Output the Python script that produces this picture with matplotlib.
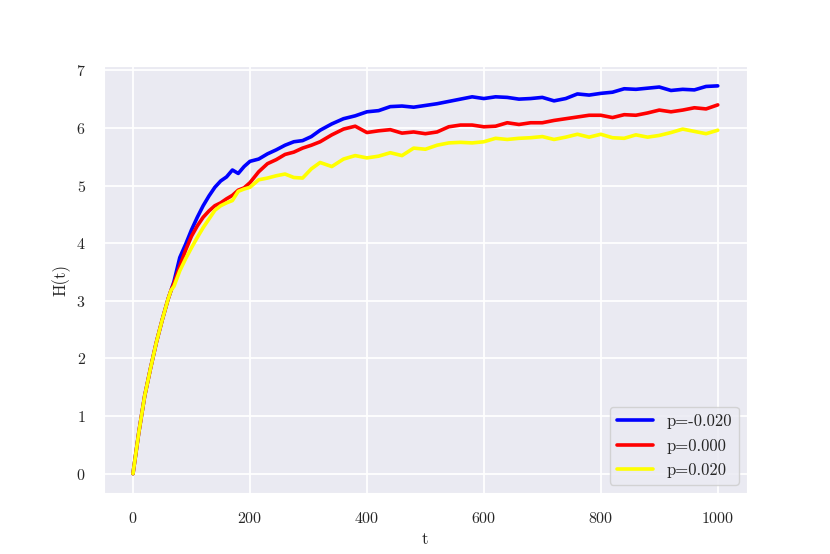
import numpy as np
import matplotlib
matplotlib.use("Agg")
import matplotlib.pyplot as plt
import seaborn as sns

sns.set_style("darkgrid")
plt.rcParams["font.family"] = ["cmr10", "DejaVu Serif"]
plt.rcParams["axes.formatter.use_mathtext"] = True
plt.rcParams["axes.unicode_minus"] = False
plt.rcParams["grid.linewidth"] = 1.3

# time steps (shared by all three runs)
t = [0, 10, 20, 30, 40, 50, 60, 65, 70, 80, 90, 100, 110, 120, 130, 140, 150,
     160, 170, 180, 190, 200, 215, 230, 245, 260, 275, 290, 305, 320, 340, 360,
     380, 400, 420, 440, 460, 480, 500, 520, 540, 560, 580, 600, 620, 640, 660,
     680, 700, 720, 740, 760, 780, 800, 820, 840, 860, 880, 900, 920, 940, 960,
     980, 1000]

# start of the curve is shared by all runs
h_start = [0.0, 0.72, 1.35, 1.83, 2.28, 2.67, 3.03, 3.18]

h_neg = h_start + [
    3.33, 3.75, 3.98, 4.23, 4.45, 4.65, 4.82, 4.97, 5.08, 5.15, 5.27, 5.21,
    5.33, 5.42, 5.46, 5.55, 5.62, 5.70, 5.76, 5.78, 5.85, 5.96, 6.07, 6.16,
    6.21, 6.28, 6.30, 6.37, 6.38, 6.36, 6.39, 6.42, 6.46, 6.50, 6.54, 6.51,
    6.54, 6.53, 6.50, 6.51, 6.53, 6.47, 6.51, 6.59, 6.57, 6.60, 6.62, 6.68,
    6.67, 6.69, 6.71, 6.65, 6.67, 6.66, 6.72, 6.73]

h_zero = h_start + [
    3.30, 3.60, 3.88, 4.12, 4.30, 4.45, 4.56, 4.65, 4.70, 4.77, 4.83, 4.92,
    4.96, 5.05, 5.24, 5.38, 5.45, 5.54, 5.58, 5.65, 5.70, 5.76, 5.88, 5.98,
    6.03, 5.92, 5.95, 5.97, 5.91, 5.93, 5.90, 5.93, 6.02, 6.05, 6.05, 6.02,
    6.03, 6.09, 6.06, 6.09, 6.09, 6.13, 6.16, 6.19, 6.22, 6.22, 6.18, 6.23,
    6.22, 6.26, 6.31, 6.28, 6.31, 6.35, 6.33, 6.40]

h_pos = h_start + [
    3.25, 3.52, 3.73, 3.92, 4.10, 4.27, 4.42, 4.57, 4.65, 4.70, 4.74, 4.90,
    4.94, 4.97, 5.10, 5.13, 5.17, 5.20, 5.14, 5.13, 5.29, 5.40, 5.33, 5.46,
    5.52, 5.48, 5.51, 5.57, 5.52, 5.65, 5.63, 5.70, 5.74, 5.75, 5.74, 5.76,
    5.82, 5.80, 5.82, 5.83, 5.85, 5.80, 5.84, 5.89, 5.84, 5.89, 5.83, 5.82,
    5.88, 5.84, 5.87, 5.92, 5.98, 5.94, 5.90, 5.96]

labels = ["p=-0.020", "p=0.000", "p=0.020"]
colors = ["blue", "red", "yellow"]

fig, ax = plt.subplots(figsize=(8.3, 5.54), dpi=100)

for h, lab, c in zip([h_neg, h_zero, h_pos], labels, colors):
    ax.plot(t, h, color=c, lw=2.6, label=lab)

ax.set_xlabel("t", fontsize=12)
ax.set_ylabel("H(t)", fontsize=12)
ax.tick_params(axis="both", labelsize=11.5, length=0, pad=13)
ax.set_yticks(range(8))
ax.legend(loc="lower right", fontsize=12, handlelength=2.2, labelspacing=0.55)

fig.savefig("out.png")
